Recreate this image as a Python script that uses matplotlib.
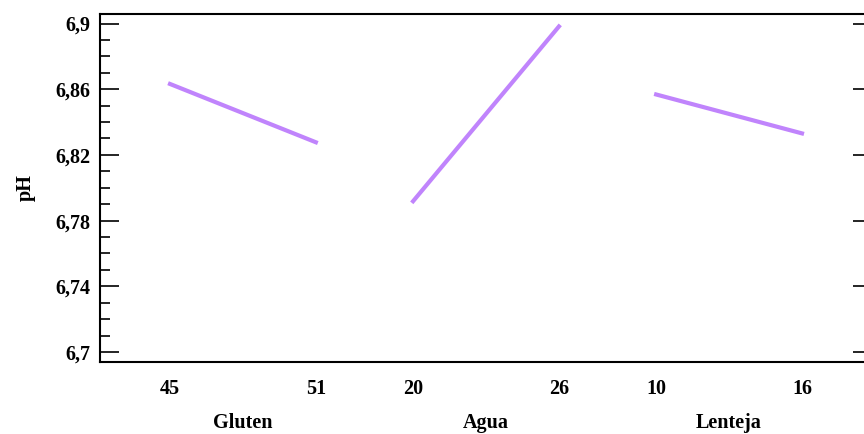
import numpy as np
import matplotlib.pyplot as plt
from matplotlib.ticker import FixedLocator, FuncFormatter

# main effects for pH
factors = ['Gluten', 'Agua', 'Lenteja']
low_levels = ['45', '20', '10']
high_levels = ['51', '26', '16']
ph_low = [6.8632, 6.7918, 6.8568]
ph_high = [6.8277, 6.8982, 6.8331]
y_major = [6.70, 6.74, 6.78, 6.82, 6.86, 6.90]

line_color = '#c084fc'
plt.rcParams['font.family'] = ['Liberation Serif', 'DejaVu Serif']
plt.rcParams['font.weight'] = 'bold'
fs = 14.5

fig = plt.figure(figsize=(8.64, 4.34), dpi=100)
ax = fig.add_axes([100 / 864, 1 - 362 / 434, 772 / 864, 348 / 434])

span, gap = 6, 4
ticks, labels = [], []
for i, name in enumerate(factors):
    x0 = i * (span + gap)
    ax.plot([x0, x0 + span], [ph_low[i], ph_high[i]], color=line_color, lw=3)
    ticks += [x0, x0 + span]
    labels += [low_levels[i], high_levels[i]]
    ax.text(x0 + span / 2, -0.175, name, transform=ax.get_xaxis_transform(),
            ha='center', va='center', fontsize=fs, fontweight='bold')

ax.set_xlim(-2.88, 28.88)
ax.set_ylim(6.6939, 6.9058)
ax.set_xticks(ticks)
ax.set_xticklabels(labels, fontsize=fs, fontweight='bold')
ax.tick_params(axis='x', length=0, pad=12)

minor = [v for v in np.arange(6.70, 6.9001, 0.01) if min(abs(v - m) for m in y_major) > 1e-6]
ax.yaxis.set_major_locator(FixedLocator(y_major))
ax.yaxis.set_minor_locator(FixedLocator(minor))
ax.yaxis.set_major_formatter(FuncFormatter(lambda v, p: ('%g' % round(v, 2)).replace('.', ',')))
ax.tick_params(axis='y', which='major', direction='in', length=14, width=1.2,
               labelsize=fs, pad=7, right=True)
ax.tick_params(axis='y', which='minor', direction='in', length=7, width=1.2)
for lab in ax.get_yticklabels():
    lab.set_fontweight('bold')

ax.set_ylabel('pH', fontsize=fs, fontweight='bold', labelpad=14)
for s in ax.spines.values():
    s.set_linewidth(1.5)

fig.savefig('out.png', dpi=100)
